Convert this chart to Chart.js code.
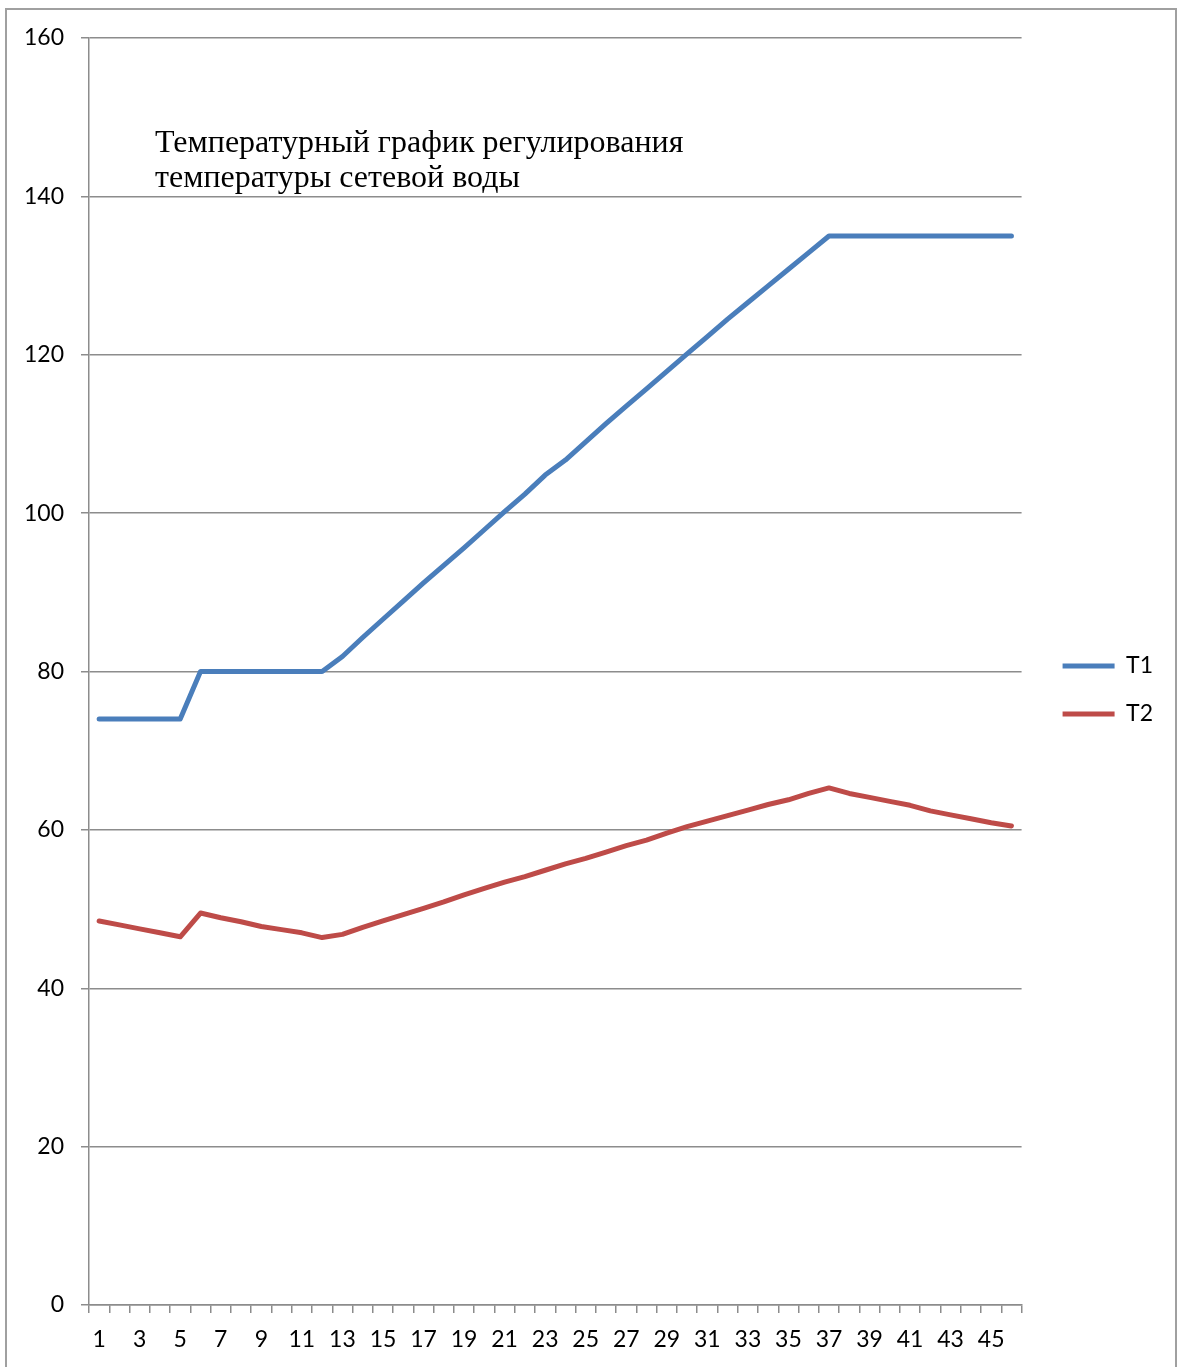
<!DOCTYPE html>
<html lang="ru">
<head>
<meta charset="utf-8" />
<title>Температурный график</title>
<style>
  body { margin: 0; background: #fff; overflow: hidden; }
  #frame {
    position: absolute; left: 5px; top: 8px; width: 1172px; height: 1400px;
    border: 2px solid #a0a0a0; box-sizing: border-box;
  }
  #wrap { position: absolute; left: 8px; top: 11px; width: 1169px; height: 1356px; }
</style>
<script src="https://cdn.jsdelivr.net/npm/chart.js"></script>
</head>
<body>
<div id="frame"></div>
<div id="wrap"><canvas id="chart"></canvas></div>
<script>
  // categories 1..46
  const categories = ['1','2','3','4','5','6','7','8','9','10','11','12','13','14','15','16',
    '17','18','19','20','21','22','23','24','25','26','27','28','29','30','31','32','33',
    '34','35','36','37','38','39','40','41','42','43','44','45','46'];

  const t1 = [74, 74, 74, 74, 74, 80, 80, 80, 80, 80, 80, 80,
    81.9, 84.3, 86.6, 88.9, 91.2, 93.4, 95.6, 97.9, 100.2, 102.4, 104.8, 106.7,
    109.0, 111.3, 113.5, 115.7, 117.9, 120.1, 122.3, 124.5, 126.6, 128.7, 130.8, 132.9,
    135, 135, 135, 135, 135, 135, 135, 135, 135, 135];

  const t2 = [48.5, 48.0, 47.5, 47.0, 46.5, 49.5, 48.9, 48.4, 47.8, 47.4, 47.0, 46.4,
    46.8, 47.7, 48.5, 49.3, 50.1, 50.9, 51.8, 52.6, 53.4, 54.1, 54.9, 55.7,
    56.4, 57.2, 58.0, 58.7, 59.6, 60.4, 61.1, 61.8, 62.5, 63.2, 63.8, 64.6,
    65.3, 64.6, 64.1, 63.6, 63.1, 62.4, 61.9, 61.4, 60.9, 60.5];

  const titleLines = ['Температурный график регулирования', 'температуры сетевой воды'];

  const gridColor = '#8c8c8c';
  const axisFont = { family: 'Lato', size: 23 };

  // title sits inside the plot area, like in the sheet
  const titleInside = {
    id: 'titleInside',
    afterDraw(chart) {
      const ctx = chart.ctx, a = chart.chartArea;
      ctx.save();
      ctx.font = '32px "Liberation Serif"';
      ctx.fillStyle = '#000';
      ctx.textBaseline = 'alphabetic';
      titleLines.forEach((s, i) => ctx.fillText(s, a.left + 66, a.top + 114 + i * 35));
      ctx.restore();
    }
  };

  // legend is centred on a slightly shorter box than the full canvas
  const legendLift = {
    id: 'legendLift',
    afterLayout(chart) {
      if (chart.legend) chart.legend.bottom -= 25;
    }
  };

  new Chart(document.getElementById('chart'), {
    type: 'line',
    data: {
      labels: categories,
      datasets: [
        { label: 'T1', data: t1, borderColor: '#4a7ebb', backgroundColor: '#4a7ebb',
          borderWidth: 5, borderCapStyle: 'round', borderJoinStyle: 'round',
          pointRadius: 0, tension: 0, fill: false },
        { label: 'T2', data: t2, borderColor: '#be4b48', backgroundColor: '#be4b48',
          borderWidth: 5, borderCapStyle: 'round', borderJoinStyle: 'round',
          pointRadius: 0, tension: 0, fill: false }
      ]
    },
    options: {
      responsive: true,
      maintainAspectRatio: false,
      animation: false,
      layout: { padding: { top: 27, bottom: 0, right: 14, left: 0 } },
      plugins: {
        tooltip: { enabled: false },
        legend: {
          position: 'right',
          labels: {
            usePointStyle: true, pointStyle: 'line', pointStyleWidth: 52,
            padding: 25, color: '#000', font: axisFont
          }
        }
      },
      scales: {
        x: {
          offset: true,
          grid: { offset: true, drawOnChartArea: false, drawTicks: true, tickLength: 8,
                  color: gridColor, lineWidth: 1.5 },
          border: { color: gridColor, width: 1.5 },
          ticks: { autoSkip: false, maxRotation: 0, padding: 13, color: '#000', font: axisFont,
                   callback: (v, i) => (i % 2 === 0 ? categories[i] : '') },
          afterFit: s => { s.height = 62; }
        },
        y: {
          min: 0, max: 160,
          grid: { color: gridColor, lineWidth: 1.5, tickLength: 8 },
          border: { color: gridColor, width: 1.5 },
          ticks: { stepSize: 20, padding: 17, color: '#000', font: axisFont },
          afterFit: s => { s.width = 81; s.paddingTop = 0; s.paddingBottom = 0; }
        },
        gap: {
          position: 'right', display: true,
          grid: { display: false }, border: { display: false }, ticks: { display: false },
          afterFit: s => { s.width = 16; }
        }
      }
    },
    plugins: [titleInside, legendLift]
  });
</script>
</body>
</html>
